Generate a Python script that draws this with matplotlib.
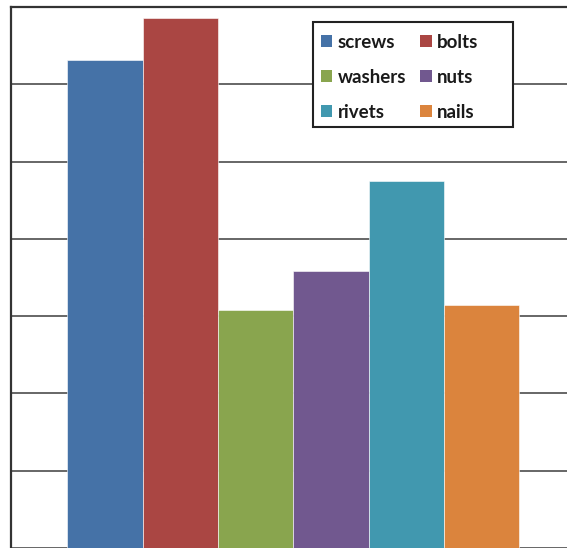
import matplotlib.pyplot as plt
from matplotlib.patches import Patch, Rectangle

# data
items = ['screws', 'bolts', 'washers', 'nuts', 'rivets', 'nails']
counts = [6.32, 6.86, 3.08, 3.58, 4.75, 3.14]
colors = ['#4572A7', '#AA4643', '#89A54E', '#71588F', '#4198AF', '#DB843D']

plt.rcParams['font.family'] = ['Lato', 'DejaVu Sans']

W, H = 567, 548
fig = plt.figure(figsize=(W / 100, H / 100), dpi=100)
# the picture is cropped: the right and bottom edges of the plot are cut off
AXW = 700
ax = fig.add_axes([11 / W, 0.0, AXW / W, 541 / H])

positions = list(range(len(items)))
ax.bar(positions, counts, width=1.0, color=colors, zorder=3,
       edgecolor='white', linewidth=0.4)

ax.set_ylim(0, 7)
ax.set_xlim(-1.25, -1.25 + AXW / 75.33)
ax.set_yticks(range(0, 8))
ax.yaxis.grid(True, color='#4d4d4d', linewidth=1.2, zorder=0)
ax.tick_params(left=False, right=False, bottom=False, top=False,
               labelleft=False, labelbottom=False)

for side in ['left', 'top']:
    ax.spines[side].set_color('#333333')
    ax.spines[side].set_linewidth(1.6)
ax.spines['right'].set_visible(False)
ax.spines['bottom'].set_visible(False)

# legend box (drawn separately, it is wider than its contents)
box = Rectangle((313 / W, 1 - 127 / H), 200 / W, 105 / H,
                transform=fig.transFigure, facecolor='white',
                edgecolor='#222222', linewidth=1.5, zorder=10)
fig.patches.append(box)

# legend filled row by row like the original
handles = [Patch(facecolor=c, label=n) for n, c in zip(items, colors)]
order = [0, 2, 4, 1, 3, 5]
leg = fig.legend([handles[i] for i in order], [items[i] for i in order],
                 ncol=2, loc='upper left',
                 bbox_to_anchor=(304 / W, 1 - 17 / H),
                 prop={'weight': 'bold', 'size': 13.5},
                 frameon=False,
                 handlelength=0.6, handleheight=0.6, handletextpad=0.3,
                 columnspacing=0.75, labelspacing=0.95, borderpad=0.4)
leg.set_zorder(11)
for t in leg.get_texts():
    t.set_color('#1a1a1a')

fig.savefig('out.png', dpi=100)
